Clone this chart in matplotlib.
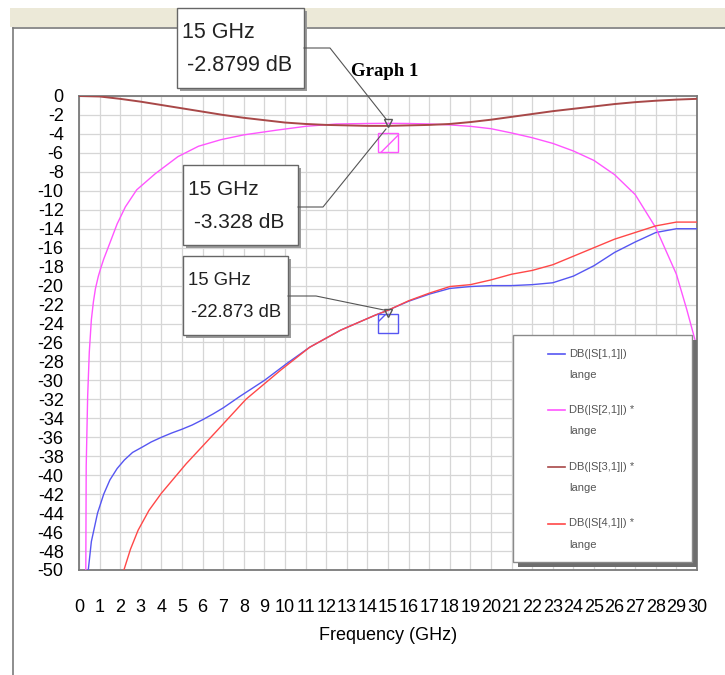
import matplotlib

matplotlib.use("Agg")
import matplotlib.pyplot as plt
from matplotlib.lines import Line2D
from matplotlib.patches import Rectangle

W, H = 725, 675
SANS = ["Liberation Sans", "DejaVu Sans"]

# --- data ----------------------------------------------------------------
s11_f = [0.45, 0.6, 0.9, 1.2, 1.5, 1.85, 2.2, 2.6, 3.1, 3.5, 4.0, 4.5, 5.0, 5.5,
         6.0, 6.5, 7.0, 7.8, 9.0, 10.1, 11.2, 12.7, 14.4, 15, 16, 17, 18, 19,
         20, 21, 22, 23, 24, 25, 26, 27, 28, 29, 30]
s11_db = [-50, -47, -44, -42, -40.5, -39.3, -38.4, -37.6, -37.0, -36.5, -36.0,
          -35.55, -35.15, -34.7, -34.15, -33.55, -32.9, -31.7, -30.0, -28.2,
          -26.5, -24.7, -23.1, -22.6, -21.65, -20.9, -20.3, -20.1, -20.0, -20.0,
          -19.9, -19.7, -19.0, -17.9, -16.5, -15.4, -14.4, -14.0, -14.0]

s21_f = [0.33, 0.35, 0.42, 0.5, 0.6, 0.7, 0.8, 0.94, 1.05, 1.2, 1.5, 1.85, 2.25,
         2.8, 3.7, 4.8, 5.8, 6.9, 8, 9.6, 11, 12.5, 14, 15, 16, 17, 18, 19, 20,
         21, 22, 23, 24, 25, 26, 27, 28, 29, 29.5, 30]
s21_db = [-50, -39, -31.7, -27.0, -23.6, -21.7, -20.3, -19.0, -18.2, -17.2,
          -15.5, -13.5, -11.7, -9.9, -8.2, -6.4, -5.3, -4.6, -4.1, -3.6, -3.2,
          -2.95, -2.9, -2.88, -2.9, -2.95, -3.05, -3.2, -3.45, -3.9, -4.4, -5.0,
          -5.8, -6.8, -8.3, -10.4, -13.9, -18.8, -22.5, -26.5]

s31_f = list(range(0, 31))
s31_db = [0, -0.05, -0.3, -0.6, -0.95, -1.3, -1.65, -2.0, -2.3, -2.55, -2.8,
          -2.95, -3.05, -3.1, -3.15, -3.15, -3.1, -3.05, -2.95, -2.75, -2.5,
          -2.2, -1.9, -1.6, -1.35, -1.1, -0.85, -0.65, -0.5, -0.38, -0.3]

s41_f = [2.18, 2.5, 2.87, 3.4, 4.0, 5.2, 6.7, 8.1, 9.8, 11.2, 12.7, 14.4, 15,
         16, 17, 18, 19, 20, 21, 22, 23, 24, 25, 26, 27, 28, 29, 30]
s41_db = [-50, -47.8, -45.8, -43.7, -41.9, -38.8, -35.3, -32.0, -28.9, -26.5,
          -24.7, -23.1, -22.6, -21.6, -20.8, -20.1, -19.9, -19.4, -18.8, -18.4,
          -17.8, -16.9, -16.0, -15.1, -14.4, -13.7, -13.3, -13.3]

series_names = ["DB(|S[1,1]|)", "DB(|S[2,1]|) *", "DB(|S[3,1]|) *", "DB(|S[4,1]|) *"]
series_colors = ["#5656f2", "#ff55ff", "#a84848", "#ff4848"]

marker_freq = 15
marker_db = [-2.8799, -3.328, -22.873]
x_ticks = list(range(0, 31))
y_ticks = list(range(0, -51, -2))


def px(x, y):
    """pixel position (from top-left) -> figure fraction"""
    return x / W, 1 - y / H


fig = plt.figure(figsize=(W / 100, H / 100), dpi=100)

# window chrome
fig.add_artist(Rectangle(px(10, 27), 715 / W, 19 / H, transform=fig.transFigure,
                         facecolor="#ece9d8", edgecolor="none", zorder=0))
fig.add_artist(Line2D([13 / W, 1], [1 - 28 / H] * 2, transform=fig.transFigure,
                      color="#7a7a7a", lw=1.2, zorder=0))
fig.add_artist(Line2D([13 / W] * 2, [0, 1 - 28 / H], transform=fig.transFigure,
                      color="#7a7a7a", lw=1.2, zorder=0))

ax = fig.add_axes([79 / W, 1 - 570 / H, 618 / W, 474 / H])
curves = [(s11_f, s11_db), (s21_f, s21_db), (s31_f, s31_db), (s41_f, s41_db)]
widths = [1.0, 1.0, 1.4, 1.0]
for (f, v), c, lw in zip(curves, series_colors, widths):
    ax.plot(f, v, color=c, lw=lw, zorder=3)

ax.set_xlim(0, 30)
ax.set_ylim(-50, 0)
ax.set_xticks(x_ticks)
ax.set_xticklabels([str(t) for t in x_ticks], fontsize=13, family=SANS)
ax.set_yticks(y_ticks)
ax.set_yticklabels([str(t) for t in y_ticks], fontsize=13, family=SANS)
ax.tick_params(length=0)
ax.tick_params(axis="y", pad=11)
ax.tick_params(axis="x", pad=21)
ax.grid(True, color="#d6d6d6", lw=0.9, zorder=0)
ax.set_axisbelow(True)
for sp in ax.spines.values():
    sp.set_color("#7a7a7a")
    sp.set_linewidth(1.3)
ax.set_xlabel("Frequency (GHz)", fontsize=13, family=SANS, labelpad=8)

# marker symbols + hatched boxes at 15 GHz
ax.plot([marker_freq, marker_freq], [marker_db[0], marker_db[2]], ls="none",
        marker="v", ms=6, mfc="none", mec="#555555", mew=1.0, zorder=5)
ax.add_patch(Rectangle((14.5, -5.9), 1.0, 2.0, facecolor="none",
                       edgecolor=series_colors[1], hatch="/", lw=1.0, zorder=4))
ax.add_patch(Rectangle((14.5, -25.0), 1.0, 2.0, facecolor="none",
                       edgecolor=series_colors[0], hatch="/", lw=1.0, zorder=4))

# "Graph 1"
fig.text(*px(385, 72), "Graph 1", ha="center", va="center", fontsize=13.5,
         fontweight="bold", family=["Liberation Serif", "DejaVu Serif"])


def callout(x0, y0, x1, y1, freq_txt, val_txt, val_dx, size, leader):
    fig.add_artist(Rectangle(px(x0 + 3, y1 + 3), (x1 - x0) / W, (y1 - y0) / H,
                             transform=fig.transFigure, facecolor="#9a9a9a",
                             edgecolor="none", zorder=5))
    fig.add_artist(Rectangle(px(x0, y1), (x1 - x0) / W, (y1 - y0) / H,
                             transform=fig.transFigure, facecolor="white",
                             edgecolor="#666666", lw=1.0, zorder=6))
    h = y1 - y0
    fig.text(*px(x0 + 5, y0 + h * 0.31), freq_txt, ha="left", va="center",
             fontsize=size, family=SANS, color="#222222", zorder=7)
    fig.text(*px(x0 + 5 + val_dx, y0 + h * 0.72), val_txt, ha="left",
             va="center", fontsize=size, family=SANS, color="#222222", zorder=7)
    xs, ys = zip(*[px(a, b) for a, b in leader])
    fig.add_artist(Line2D(xs, ys, transform=fig.transFigure, color="#555555",
                          lw=0.8, zorder=6))


callout(177, 8, 304, 88, "15 GHz", f"{marker_db[0]} dB", 5, 15.5,
        [(304, 48), (330, 48), (386, 119)])
callout(183, 165, 298, 245, "15 GHz", f"{marker_db[1]} dB", 6, 15,
        [(298, 207), (323, 207), (386, 129)])
callout(183, 256, 288, 335, "15 GHz", f"{marker_db[2]} dB", 3, 13.3,
        [(288, 296), (316, 296), (384, 310)])

# legend box
lx0, ly0, lx1, ly1 = 513, 335, 692, 562
fig.add_artist(Rectangle(px(lx0 + 5, ly1 + 5), (lx1 - lx0) / W, (ly1 - ly0) / H,
                         transform=fig.transFigure, facecolor="#6e6e6e",
                         edgecolor="none", zorder=5))
fig.add_artist(Rectangle(px(lx0, ly1), (lx1 - lx0) / W, (ly1 - ly0) / H,
                         transform=fig.transFigure, facecolor="white",
                         edgecolor="#8a8a8a", lw=1.0, zorder=6))
for i, (name, c) in enumerate(zip(series_names, series_colors)):
    yy = 354 + i * 56.5
    fig.add_artist(Line2D([548 / W, 565 / W], [1 - yy / H] * 2,
                          transform=fig.transFigure, color=c, lw=1.2, zorder=7))
    fig.text(*px(569, yy), name, ha="left", va="center", fontsize=8,
             family=SANS, color="#555555", zorder=7)
    fig.text(*px(569, yy + 21), "lange", ha="left", va="center", fontsize=8,
             family=SANS, color="#555555", zorder=7)

fig.savefig("out.png", dpi=100)
